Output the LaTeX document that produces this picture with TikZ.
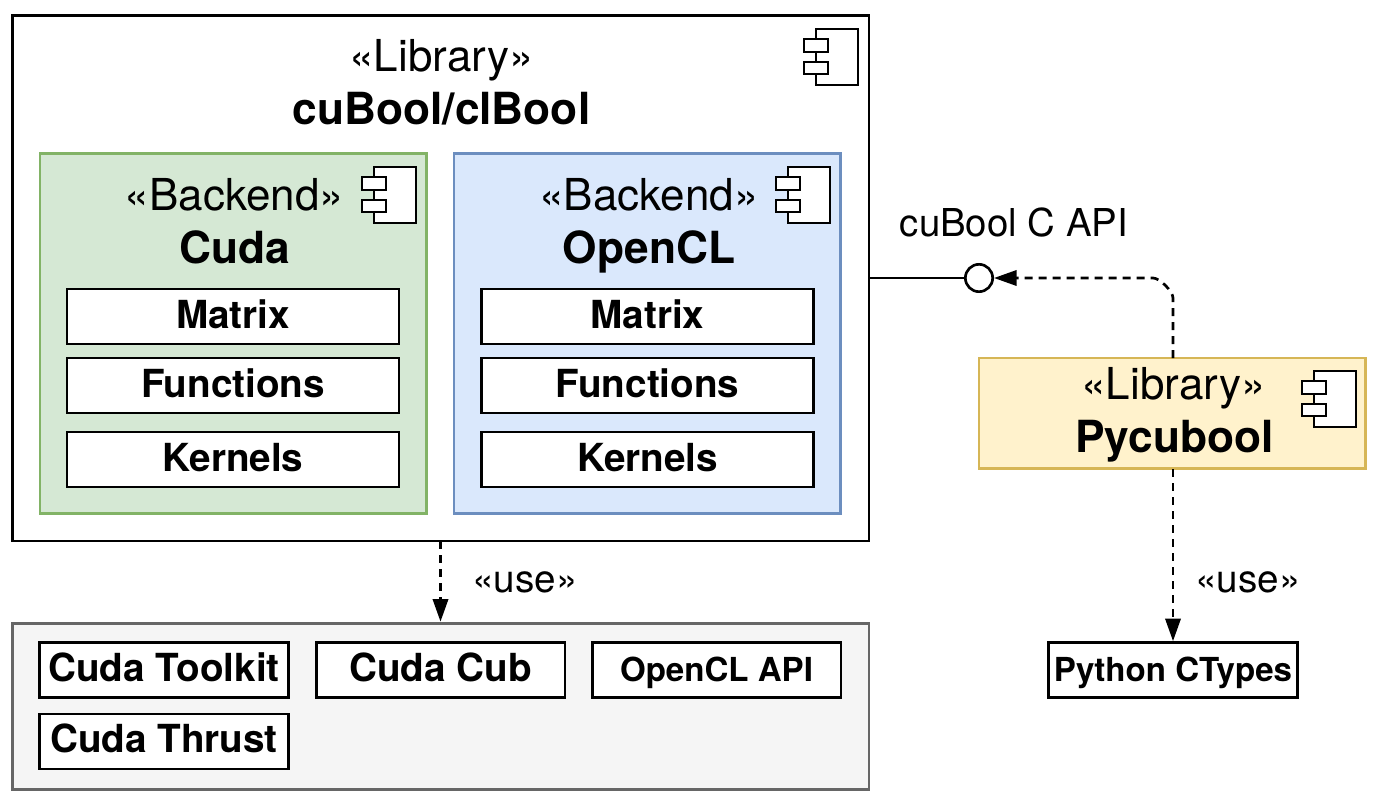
\documentclass[tikz,border=0pt]{standalone}
\usepackage{fontspec}
\setmainfont{TeX Gyre Heros}
\usetikzlibrary{arrows.meta}
\definecolor{gfill}{HTML}{D5E8D4}\definecolor{gline}{HTML}{82B366}
\definecolor{bfill}{HTML}{DAE8FC}\definecolor{bline}{HTML}{6C8EBF}
\definecolor{yfill}{HTML}{FFF2CC}\definecolor{yline}{HTML}{D6B656}
\definecolor{gyfill}{HTML}{F5F5F5}\definecolor{gyline}{HTML}{666666}
\tikzset{x=0.75pt,y=-0.75pt,
 every node/.style={outer sep=0pt},
 lw/.style={line width=2pt},
 box/.style={draw=black,lw,fill=white,anchor=center,inner sep=0pt,text depth=0pt},
 panel/.style={lw,inner sep=0pt,anchor=north west},
 lbl/.style={inner sep=0pt,anchor=base,text=black},
 dep/.style={draw=black,lw,dash pattern=on 6pt off 4.5pt,-{Triangle[length=17pt,width=11.5pt,sep=1pt]}}}
\newcommand{\compicon}[1]{\begin{scope}[shift={(#1)}]
 \draw[lw,fill=white] (-15,-28) rectangle (27,28);
 \draw[lw,fill=white] (-27,-18) rectangle (-3,-5);
 \draw[lw,fill=white] (-27,5) rectangle (-3,17);
\end{scope}}
\newcommand{\regf}{\fontsize{33pt}{36pt}\selectfont}
\newcommand{\bolf}{\fontsize{33.2pt}{36pt}\selectfont\bfseries}
\newcommand{\labf}{\fontsize{29pt}{32pt}\selectfont}
\begin{document}
\begin{tikzpicture}
\useasboundingbox (0,0) rectangle (1376,802);
\node[panel,draw=black,fill=white,minimum width=642.4pt,minimum height=394.2pt] (lib) at (12.5,15.5) {};
\compicon{831,57}
\node[lbl,font=\regf] (l1) at (441.5,72) {«Library»};
\node[lbl,font=\bolf] (l2) at (441.5,125) {cuBool/clBool};
\node[panel,draw=gline,fill=gfill,minimum width=290pt,minimum height=270pt] (cuda) at (40,153.5) {};
\node[panel,draw=bline,fill=bfill,minimum width=290pt,minimum height=270pt] (ocl) at (454,153.5) {};
\compicon{389,195}
\compicon{803,195}
\node[lbl,font=\regf] (c1l) at (234.5,210) {«Backend»};
\node[lbl,font=\bolf] (c2l) at (234.5,263) {Cuda};
\node[lbl,font=\regf] (o1l) at (649,210) {«Backend»};
\node[lbl,font=\bolf] (o2l) at (649,263) {OpenCL};
\foreach \n/\x/\y/\t in {a1/233/316.5/Matrix,a2/233/385.5/Functions,a3/233/459.5/Kernels,b1/647.5/316.5/Matrix,b2/647.5/385.5/Functions,b3/647.5/459.5/Kernels}{
 \node[box,minimum width=249pt,minimum height=41.25pt,text height=17.4pt,font=\labf\bfseries] (\n) at (\x,\y) {\t};}
\node[panel,draw=gyline,fill=gyfill,minimum width=642.4pt,minimum height=124.5pt] (ext) at (12.5,623.5) {};
\foreach \n/\x/\y/\t/\s/\h in {c1/164/670/Cuda Toolkit/29pt/16.8pt,c2/440.5/670/Cuda Cub/29pt/16.8pt,c3/716.5/670/OpenCL API/24.8pt/17pt,c4/164/741.5/Cuda Thrust/29pt/16.8pt}{
 \node[box,minimum width=186.5pt,minimum height=41.25pt,text height=\h,font=\fontsize{\s}{\s}\selectfont\bfseries] (\n) at (\x,\y) {\t};}
\node[panel,draw=yline,fill=yfill,minimum width=290pt,minimum height=83pt] (py) at (979,358) {};
\compicon{1329,399}
\node[lbl,font=\regf] (p1l) at (1173.5,399) {«Library»};
\node[lbl,font=\bolf] (p2l) at (1174.5,452) {Pycubool};
\node[box,minimum width=186.5pt,minimum height=41.25pt,text height=17pt,font=\fontsize{24.8pt}{24.8pt}\selectfont\bfseries] (ct) at (1173,670) {Python CTypes};
\node[draw=black,lw,fill=white,circle,minimum size=20.5pt,inner sep=0pt] (api) at (979,278) {};
\draw[lw] (lib.east |- api.west) -- (api.west);
\coordinate (pytop) at (1173,358);
\draw[dep] (pytop) -- (1173,298) to[out=90,in=0,looseness=0.6] (1153,278) -- (api.east);
\coordinate (libbot) at (440.5,541);
\coordinate (exttop) at (440.5,623);
\draw[dep] (libbot) -- (exttop);
\coordinate (pybot) at (1173,469);
\draw[dep] (pybot) -- (ct.north);
\node[lbl,font=\labf] (u1) at (525,592) {«use»};
\node[lbl,font=\labf] (u2) at (1248,592) {«use»};
\node[lbl,font=\fontsize{28.8pt}{32pt}\selectfont] (apil) at (1014,236) {cuBool C API};
\end{tikzpicture}
\end{document}
